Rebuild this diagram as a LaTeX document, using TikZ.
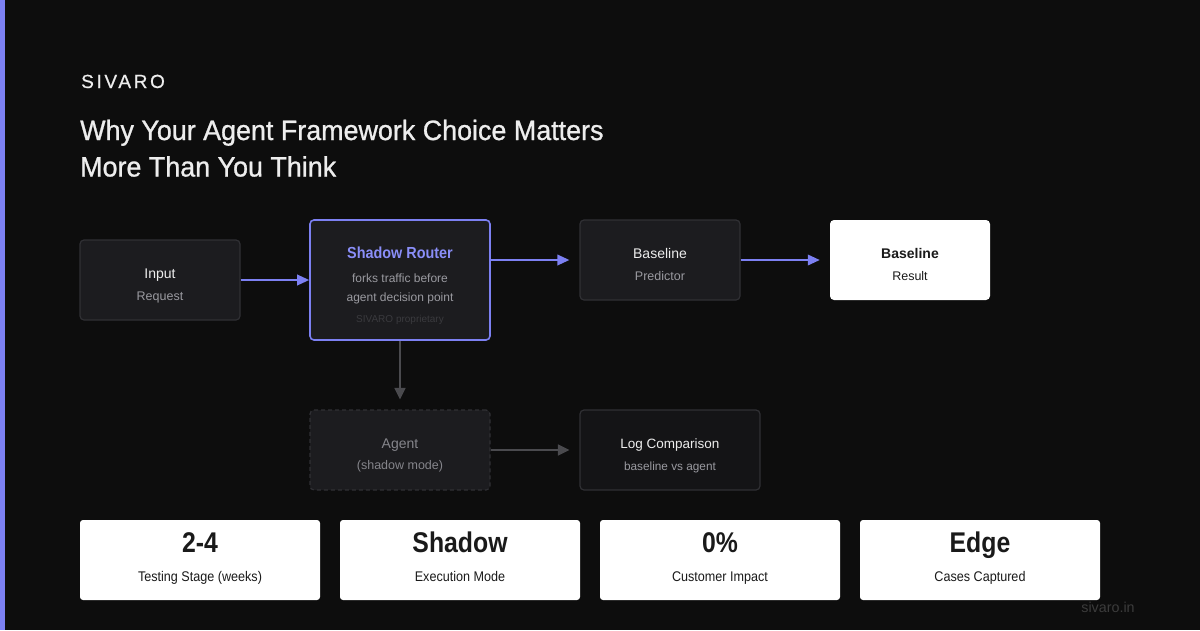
\documentclass[tikz,border=0pt]{standalone}
\usepackage{fontspec}
\setmainfont{Liberation Sans}
\usetikzlibrary{arrows.meta}
\definecolor{bg}{HTML}{0D0D0D}
\definecolor{accent}{HTML}{7C80F2}
\definecolor{accenttxt}{HTML}{8A8EF8}
\definecolor{nodefill}{HTML}{1C1C1F}
\definecolor{nodeline}{HTML}{303034}
\definecolor{logfill}{HTML}{141416}
\definecolor{txtw}{HTML}{EDEDED}
\definecolor{txtg}{HTML}{9A9AA0}
\definecolor{txtdim}{HTML}{3A3A3E}
\definecolor{agenttxt}{HTML}{85858B}
\definecolor{grayarrow}{HTML}{4A4A4E}
\definecolor{dark}{HTML}{1A1A1A}
\definecolor{footer}{HTML}{3C3C3C}
\tikzset{
  box/.style={rectangle, rounded corners=4pt, inner sep=0pt, fill=nodefill, draw=nodeline, line width=1.2pt},
  whitebox/.style={rectangle, rounded corners=4pt, inner sep=0pt, fill=white, draw=none},
  txt/.style={inner sep=0pt, anchor=base},
  bluearrow/.style={draw=accent, line width=2pt, -{Triangle[length=12pt,width=10.5pt]}},
  grayarr/.style={draw=grayarrow, line width=1.5pt, -{Triangle[length=11.5pt,width=11pt]}},
}
\begin{document}
\begin{tikzpicture}[x=1pt,y=-1pt]
\fill[bg] (0,0) rectangle (1200,630);
\useasboundingbox (0,0) rectangle (1200,630);
\fill[accent] (0,0) rectangle (5,630);

% header
\node[txt, anchor=base west] (brand) at (81,88) {\fontsize{19}{21}\selectfont\addfontfeature{LetterSpace=14,FakeBold=0.6}\color{txtw}SIVARO};
\node[txt, anchor=base west] (title1) at (80,140) {\fontsize{28}{32}\selectfont\addfontfeature{FakeStretch=0.96,FakeBold=0.9}\color{txtw}Why Your Agent Framework Choice Matters};
\node[txt, anchor=base west] (title2) at (80,176.5) {\fontsize{28}{32}\selectfont\addfontfeature{FakeStretch=0.96,FakeBold=0.9}\color{txtw}More Than You Think};

% flow boxes
\node[box, minimum width=160pt, minimum height=80pt] (input) at (160,280) {};
\node[box, draw=accent, line width=1.6pt, minimum width=180pt, minimum height=120pt] (router) at (400,280) {};
\node[box, minimum width=160pt, minimum height=80pt] (base) at (660,260) {};
\node[whitebox, minimum width=160pt, minimum height=80pt] (result) at (910,260) {};
\node[box, dashed, dash pattern=on 4pt off 3pt, draw=nodeline, minimum width=180pt, minimum height=80pt] (agent) at (400,450) {};
\node[box, fill=logfill, draw=nodeline, minimum width=180pt, minimum height=80pt] (log) at (670,450) {};

% texts
\node[txt] (inputT) at (160,278) {\fontsize{14}{16}\selectfont\color{txtw}Input};
\node[txt] (inputS) at (160,300) {\fontsize{12.5}{14}\selectfont\color{txtg}Request};

\node[txt] (routerT) at (400,258) {\fontsize{16}{18}\selectfont\addfontfeature{FakeStretch=0.9}\bfseries\color{accenttxt}Shadow Router};
\node[txt] (routerS1) at (400,282) {\fontsize{12}{14}\selectfont\color{txtg}forks traffic before};
\node[txt] (routerS2) at (400,301) {\fontsize{12}{14}\selectfont\color{txtg}agent decision point};
\node[txt] (routerS3) at (400,322) {\fontsize{10}{12}\selectfont\color{txtdim}SIVARO proprietary};

\node[txt] (baseT) at (660,258) {\fontsize{14}{16}\selectfont\color{txtw}Baseline};
\node[txt] (baseS) at (660,280.5) {\fontsize{12.5}{14}\selectfont\color{txtg}Predictor};

\node[txt] (resultT) at (910,258) {\fontsize{14}{16}\selectfont\bfseries\color{dark}Baseline};
\node[txt] (resultS) at (910,280.5) {\fontsize{12.5}{14}\selectfont\color{dark}Result};

\node[txt] (agentT) at (400,448.5) {\fontsize{14}{16}\selectfont\color{agenttxt}Agent};
\node[txt] (agentS) at (400,469.5) {\fontsize{12.5}{14}\selectfont\color{agenttxt}(shadow mode)};

\node[txt] (logT) at (670,448.5) {\fontsize{13.5}{16}\selectfont\color{txtw}Log Comparison};
\node[txt] (logS) at (670,470) {\fontsize{11.8}{13}\selectfont\color{txtg}baseline vs agent};

% connectors
\draw[bluearrow] (input.east) -- (router.west);
\draw[bluearrow, shorten >=10pt] (router.east |- base.west) -- (base.west);
\draw[bluearrow, shorten >=10pt] (base.east) -- (result.west);
\draw[grayarr, shorten >=10pt] (router.south) -- (agent.north);
\draw[grayarr, shorten >=10pt] (agent.east) -- (log.west);

% stat cards
\foreach \i/\cx/\big/\small in {1/200/2-4/Testing Stage (weeks), 2/460/Shadow/Execution Mode, 3/720/0\%/Customer Impact, 4/980/Edge/Cases Captured}{
  \node[whitebox, rounded corners=3pt, minimum width=240pt, minimum height=80pt] (card\i) at (\cx,560) {};
  \node[txt] (cardV\i) at (\cx,552.5) {\fontsize{28.5}{30}\selectfont\addfontfeature{FakeStretch=0.87}\bfseries\color{dark}\big};
  \node[txt] (cardL\i) at (\cx,581) {\fontsize{14}{16}\selectfont\addfontfeature{FakeStretch=0.9}\color{dark}\small};
}

\node[txt] (foot) at (1108,612) {\fontsize{14.3}{16}\selectfont\color{footer}sivaro.in};
\end{tikzpicture}
\end{document}
